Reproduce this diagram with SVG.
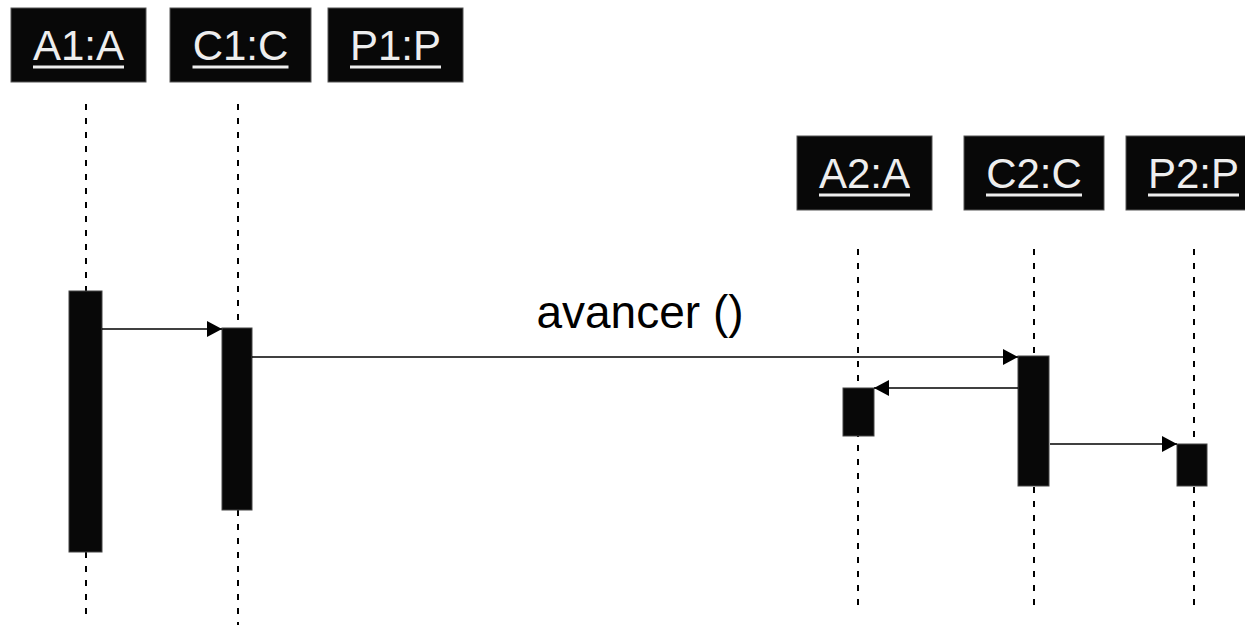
<svg xmlns="http://www.w3.org/2000/svg" width="1245" height="625" viewBox="0 0 1245 625">
<defs>
<style>
.box{fill:#080808;stroke:#555;stroke-width:1}
.lbl{font-family:"Liberation Sans",Arial,sans-serif;font-size:42px;fill:#eeeeee;text-anchor:middle}
.ul{fill:#eeeeee}
.life{stroke:#000;stroke-width:2;stroke-dasharray:6 8;fill:none}
.act{fill:#080808;stroke:#444;stroke-width:1}
.msg{stroke:#000;stroke-width:1.5;fill:none;marker-end:url(#arr)}
.mtxt{font-family:"Liberation Sans",Arial,sans-serif;font-size:46px;fill:#000;text-anchor:middle}
</style>
<marker id="arr" viewBox="0 0 15 16" refX="15" refY="8" markerWidth="15" markerHeight="16" markerUnits="userSpaceOnUse" orient="auto">
<path d="M0,0 L15,8 L0,16 Z" fill="#000"/>
</marker>
</defs>
<rect width="1245" height="625" fill="#fff"/>
<g id="lifelines">
<line class="life" x1="86" y1="104" x2="86" y2="620"/>
<line class="life" x1="238" y1="104" x2="238" y2="625"/>
<line class="life" x1="858" y1="249" x2="858" y2="606"/>
<line class="life" x1="1034" y1="249" x2="1034" y2="608"/>
<line class="life" x1="1194" y1="249" x2="1194" y2="606"/>
</g>
<g id="A1"><rect class="box" x="11" y="8" width="135" height="74"/><text class="lbl" x="78.5" y="60">A1:A</text><rect class="ul" x="33" y="65.5" width="91" height="3"/></g>
<g id="C1"><rect class="box" x="170" y="8" width="141" height="74"/><text class="lbl" x="240.5" y="60">C1:C</text><rect class="ul" x="192.5" y="65.5" width="96" height="3"/></g>
<g id="P1"><rect class="box" x="328" y="8" width="135" height="74"/><text class="lbl" x="395.5" y="60">P1:P</text><rect class="ul" x="350" y="65.5" width="91" height="3"/></g>
<g id="A2"><rect class="box" x="797" y="136" width="135" height="74"/><text class="lbl" x="864.5" y="188">A2:A</text><rect class="ul" x="819" y="193.5" width="91" height="3"/></g>
<g id="C2"><rect class="box" x="964" y="136" width="140" height="74"/><text class="lbl" x="1034" y="188">C2:C</text><rect class="ul" x="986" y="193.5" width="96" height="3"/></g>
<g id="P2"><rect class="box" x="1126" y="136" width="125" height="74"/><text class="lbl" x="1193.5" y="188">P2:P</text><rect class="ul" x="1148" y="193.5" width="91" height="3"/></g>
<g id="activations">
<rect class="act" x="69" y="291" width="33" height="261"/>
<rect class="act" x="222" y="328" width="30" height="182"/>
<rect class="act" x="843" y="388" width="31" height="48"/>
<rect class="act" x="1018" y="356" width="31" height="130"/>
<rect class="act" x="1177" y="444" width="30" height="42"/>
</g>
<g id="connectors">
<line class="msg" x1="102" y1="329" x2="222" y2="329"/>
<line class="msg" x1="252" y1="357" x2="1018" y2="357"/>
<line class="msg" x1="1018" y1="388" x2="874" y2="388"/>
<line class="msg" x1="1050" y1="444" x2="1177" y2="444"/>
<text class="mtxt" x="640" y="328">avancer ()</text>
</g>
</svg>
